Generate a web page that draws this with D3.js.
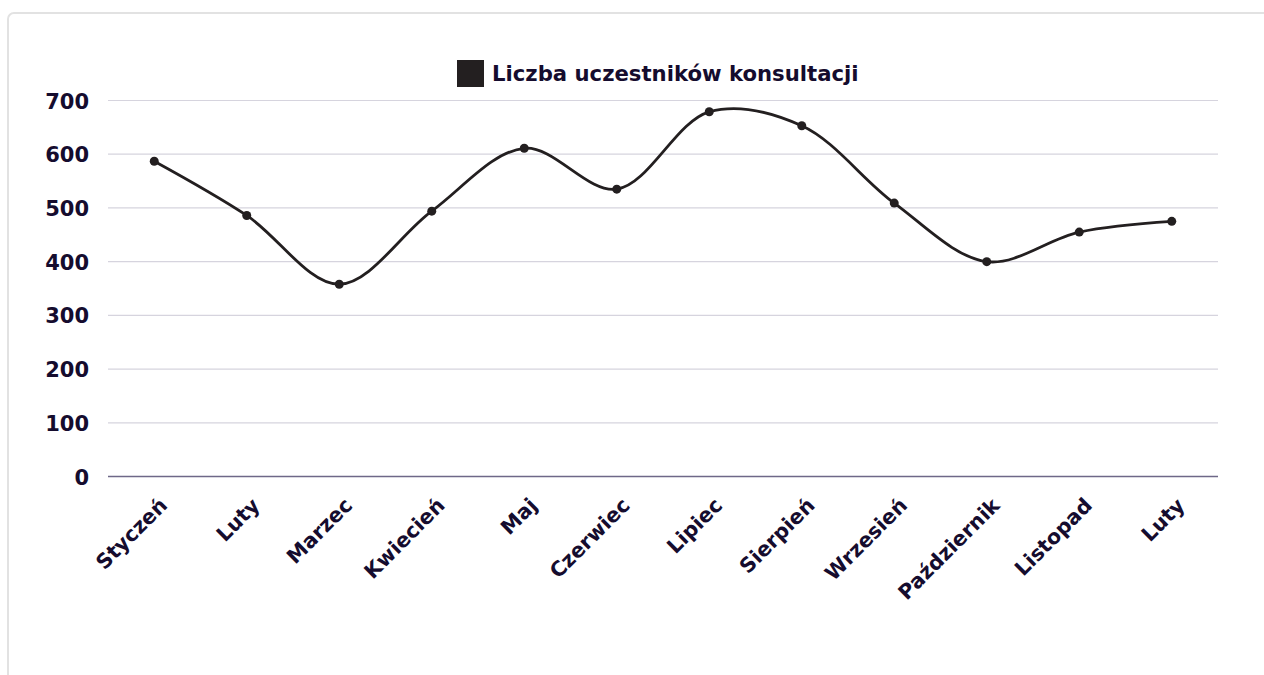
<!DOCTYPE html>
<html><head><meta charset="utf-8">
<script src="https://cdn.jsdelivr.net/npm/d3@7"></script>
<style>
html,body{margin:0;padding:0;background:#fff;}
svg{display:block;font-family:"DejaVu Sans", sans-serif;}
</style></head>
<body>
<svg id="c" width="1264" height="675"></svg>
<script>
const categories = ["Styczeń","Luty","Marzec","Kwiecień","Maj","Czerwiec","Lipiec","Sierpień","Wrzesień","Październik","Listopad","Luty"];
const values = [587, 486, 358, 494, 611, 535, 679, 653, 509, 400, 455, 475];
const yTicks = [0,100,200,300,400,500,600,700];
const seriesName = "Liczba uczestników konsultacji";

(function(){
const svg = d3.select("#c");
const textColor = "#150c2e";
const font = "'DejaVu Sans', sans-serif";
svg.append("rect").attr("x",8).attr("y",13).attr("width",1300).attr("height",720)
  .attr("rx",6).attr("fill","#fff").attr("stroke","#e2e2e2").attr("stroke-width",2);

const pLeft=108, pRight=1218, pTop=100.5, pBottom=476.5;
const idx = categories.map((d,i)=>i);
const x = d3.scaleBand().domain(idx).range([pLeft,pRight]);
const y = d3.scaleLinear().domain([0,700]).range([pBottom,pTop]);
const cx = i => x(i)+x.bandwidth()/2;

// grid
svg.append("g").selectAll("line").data(yTicks).join("line")
  .attr("x1",pLeft).attr("x2",pRight).attr("y1",d=>y(d)).attr("y2",d=>y(d))
  .attr("stroke",d=>d===0?"#6e6888":"#d6d4de").attr("stroke-width",d=>d===0?1.5:1.2);

// y labels
const yAxis = svg.append("g").attr("transform",`translate(${pLeft-19},0)`)
  .call(d3.axisLeft(y).tickValues(yTicks).tickSize(0).tickPadding(0));
yAxis.select(".domain").remove();
yAxis.selectAll("text").attr("fill",textColor).attr("font-size",21).attr("font-weight",700)
  .attr("font-family",font).attr("dy","0.36em");

// x labels
const xAxis = svg.append("g").attr("transform",`translate(0,${pBottom})`)
  .call(d3.axisBottom(x).tickSize(0).tickFormat(i=>categories[i]));
xAxis.select(".domain").remove();
xAxis.selectAll(".tick text")
  .attr("fill",textColor).attr("font-size",20.5).attr("font-weight",700)
  .attr("font-family",font)
  .attr("text-anchor","end").attr("dy",null).attr("y",null)
  .attr("transform","translate(10,26) rotate(-45)")
  .attr("dominant-baseline","middle");

// line
const line = d3.line().x((d,i)=>cx(i)).y(d=>y(d)).curve(d3.curveCatmullRom.alpha(0.5));
svg.append("path").datum(values).attr("d",line)
  .attr("fill","none").attr("stroke","#231f20").attr("stroke-width",2.8);
svg.append("g").selectAll("circle").data(values).join("circle")
  .attr("cx",(d,i)=>cx(i)).attr("cy",d=>y(d)).attr("r",4.5).attr("fill","#231f20");

// legend
const lg = svg.append("g");
lg.append("rect").attr("x",457).attr("y",60).attr("width",27).attr("height",27).attr("fill","#231f20");
lg.append("text").attr("x",492).attr("y",81).text(seriesName)
  .attr("fill",textColor).attr("font-size",21.2).attr("font-weight",700).attr("font-family",font);
})();
</script>
</body></html>
